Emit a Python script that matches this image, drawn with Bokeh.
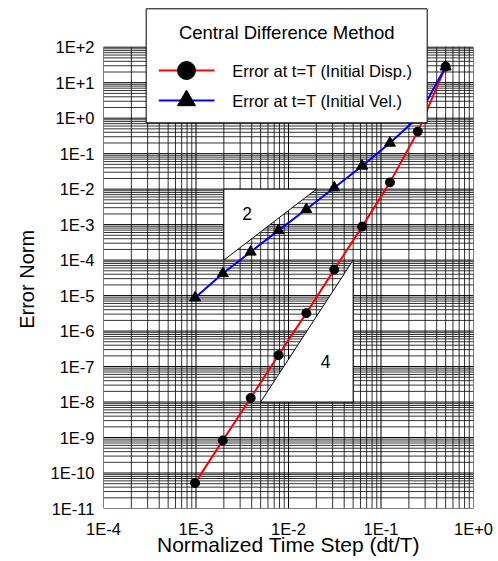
import math
from bokeh.plotting import figure
from bokeh.models import FixedTicker, CustomJSTickFormatter, Title
from bokeh.core.properties import value
from bokeh.embed import file_html
from bokeh.resources import INLINE

# ---------------- data ----------------
dt_over_T = [0.000977, 0.00195, 0.0039, 0.0078, 0.0156, 0.03125, 0.0625, 0.125, 0.25, 0.5]
err_disp = [5.2e-11, 8.3e-10, 1.3e-8, 2.1e-7, 3.2e-6, 5.4e-5, 8.8e-4, 1.55e-2, 0.42, 28.6]
err_vel = [8.7e-6, 4.2e-5, 1.7e-4, 6.9e-4, 2.7e-3, 1.1e-2, 4.5e-2, 0.2, 1.05, 28.0]

series_names = ["Error at t=T (Initial Disp.)", "Error at t=T (Initial Vel.)"]
legend_title = "Central Difference Method"

x_exps = [-4, -3, -2, -1, 0]
x_tick_labels = ["1E-4", "1E-3", "1E-2", "1E-1", "1E+0"]
y_exps = [-11, -10, -9, -8, -7, -6, -5, -4, -3, -2, -1, 0, 1, 2]
y_tick_labels = ["1E-11", "1E-10", "1E-9", "1E-8", "1E-7", "1E-6", "1E-5",
                 "1E-4", "1E-3", "1E-2", "1E-1", "1E+0", "1E+1", "1E+2"]
minor_mults = [2, 3, 4, 5, 6, 7, 8, 9]

# slope triangles (order 2 and order 4 reference slopes)
tri2_x = [0.002, 0.002, 0.02]
tri2_y = [1e-4, 1e-2, 1e-2]
tri2_label = "2"
tri4_x = [0.005, 0.05, 0.05]
tri4_y = [1e-8, 1e-8, 1e-4]
tri4_label = "4"

x_title = "Normalized Time Step (dt/T)"
y_title = "Error Norm"

FONT = "Liberation Sans"

# ---------------- geometry ----------------
W, H = 498, 561
FL, FR = 103, 473          # frame left/right px
FT, FB = 6, 508            # frame top/bottom px
Y_TOP_DEC = 46.7           # pixel of 1E+2
PX_DEC_Y = (FB - Y_TOP_DEC) / 13.0
PX_DEC_X = (FR - FL) / 4.0
y_end = 10 ** (2 + (Y_TOP_DEC - FT) / PX_DEC_Y)

def px_x(px):
    return 10 ** (-4 + (px - FL) / PX_DEC_X)

def px_y(py):
    return 10 ** (2 - (py - Y_TOP_DEC) / PX_DEC_Y)

p = figure(width=W, height=H, x_axis_type="log", y_axis_type="log",
           x_range=(10.0 ** x_exps[0], 10.0 ** x_exps[-1]),
           y_range=(10.0 ** y_exps[0], y_end),
           output_backend="svg", toolbar_location=None,
           min_border_left=FL, min_border_right=W - FR,
           min_border_top=FT, min_border_bottom=H - FB)
p.outline_line_color = None
p.background_fill_color = "white"
p.border_fill_color = "white"
p.xgrid.visible = False
p.ygrid.visible = False

# ---------------- grid (bounded to the data decades) ----------------
xmin, xmax = 10.0 ** x_exps[0], 10.0 ** x_exps[-1]
ymin, ymax = 10.0 ** y_exps[0], 10.0 ** y_exps[-1]
x_major = [10.0 ** e for e in x_exps]
y_major = [10.0 ** e for e in y_exps]
x_minor = [m * 10.0 ** e for e in x_exps[:-1] for m in minor_mults]
y_minor = [m * 10.0 ** e for e in y_exps[:-1] for m in minor_mults]

p.segment(x0=x_minor, x1=x_minor, y0=[ymin] * len(x_minor), y1=[ymax] * len(x_minor),
          line_color="black", line_width=1, line_alpha=0.8)
p.segment(x0=[xmin] * len(y_minor), x1=[xmax] * len(y_minor), y0=y_minor, y1=y_minor,
          line_color="black", line_width=1, line_alpha=0.8)
p.segment(x0=x_major, x1=x_major, y0=[ymin] * len(x_major), y1=[ymax] * len(x_major),
          line_color="black", line_width=1)
p.segment(x0=[xmin] * len(y_major), x1=[xmax] * len(y_major), y0=y_major, y1=y_major,
          line_color="black", line_width=1)

# ---------------- slope triangles ----------------
p.patch(tri2_x, tri2_y, fill_color="white", line_color="black", line_width=1)
p.patch(tri4_x, tri4_y, fill_color="white", line_color="black", line_width=1)
p.text(x=[px_x(246.7)], y=[px_y(213.3)], text=[tri2_label],
       text_font=value(FONT), text_font_size=value("17.5px"), text_color="black",
       text_align="center", text_baseline="middle")
p.text(x=[px_x(325)], y=[px_y(361)], text=[tri4_label],
       text_font=value(FONT), text_font_size=value("17.5px"), text_color="black",
       text_align="center", text_baseline="middle")

# ---------------- data ----------------
p.line(dt_over_T, err_disp, line_color="red", line_width=2)
p.line(dt_over_T, err_vel, line_color="blue", line_width=2)
p.scatter(dt_over_T, err_disp, marker="circle", size=9, fill_color="black", line_color="black")
p.scatter(dt_over_T, err_vel, marker="triangle", size=11, fill_color="black", line_color="black")

# ---------------- legend box ----------------
p.quad(left=[px_x(145.7)], right=[px_x(426.7)], top=[px_y(8.3)], bottom=[px_y(122.3)],
       fill_color="white", line_color="black", line_width=1)
p.text(x=[px_x(286.2)], y=[px_y(31.7)], text=[legend_title],
       text_font=value(FONT), text_font_size=value("18.5px"), text_color="black",
       text_align="center", text_baseline="middle")
leg_y = [px_y(70), px_y(100)]
p.segment(x0=[px_x(158.3)] * 2, x1=[px_x(214)] * 2, y0=leg_y, y1=leg_y,
          line_color=["red", "blue"], line_width=2)
p.scatter([px_x(186)], [leg_y[0]], marker="circle", size=18, fill_color="black", line_color="black")
p.scatter([px_x(186)], [leg_y[1]], marker="triangle", size=18, fill_color="black", line_color="black")
p.text(x=[px_x(231.7)] * 2, y=leg_y, text=series_names,
       text_font=value(FONT), text_font_size=value("16.5px"), text_color="black",
       text_align="left", text_baseline="middle")

# ---------------- axes ----------------
p.xaxis.ticker = FixedTicker(ticks=x_major, minor_ticks=[])
p.yaxis.ticker = FixedTicker(ticks=y_major, minor_ticks=[])
fmt_code = """
const e = Math.round(Math.log10(tick));
const i = exps.indexOf(e);
return i >= 0 ? labels[i] : "";
"""
p.xaxis.formatter = CustomJSTickFormatter(args=dict(exps=x_exps, labels=x_tick_labels), code=fmt_code)
p.yaxis.formatter = CustomJSTickFormatter(args=dict(exps=y_exps, labels=y_tick_labels), code=fmt_code)
for ax in (p.xaxis[0], p.yaxis[0]):
    ax.axis_line_color = None
    ax.major_tick_line_color = None
    ax.minor_tick_line_color = None
    ax.major_tick_out = 0
    ax.major_tick_in = 0
    ax.major_label_text_font = FONT
    ax.major_label_text_font_size = "16.5px"
    ax.major_label_text_color = "black"
p.xaxis.major_label_standoff = 11
p.yaxis.major_label_standoff = 9

# x title as axis label
p.xaxis.axis_label = x_title
p.xaxis.axis_label_text_font = FONT
p.xaxis.axis_label_text_font_size = "21px"
p.xaxis.axis_label_text_font_style = "normal"
p.xaxis.axis_label_text_color = "black"
p.xaxis.axis_label_standoff = -8

# y title as a side-panel title, shifted down along the axis
p.add_layout(Title(text=y_title, align="left", offset=FB - 328.3, standoff=20,
                   text_font=FONT, text_font_size="20px", text_font_style="normal",
                   text_color="black"), "left")

open("out.html", "w").write(file_html(p, INLINE))
